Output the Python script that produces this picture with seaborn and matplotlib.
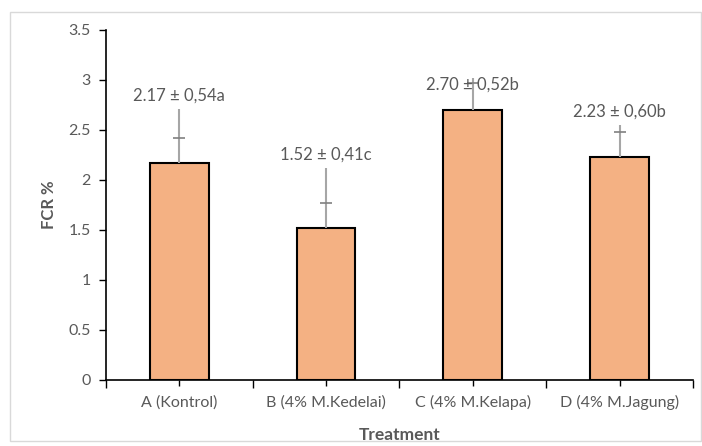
import numpy as np
import pandas as pd
import seaborn as sns
import matplotlib.pyplot as plt
from matplotlib.patches import Rectangle

# values
treatments = ['A (Kontrol)', 'B (4% M.Kedelai)', 'C (4% M.Kelapa)', 'D (4% M.Jagung)']
fcr = [2.17, 1.52, 2.70, 2.23]
labels = ['2.17 ± 0,54a', '1.52 ± 0,41c', '2.70 ± 0,52b', '2.23 ± 0,60b']
err_top = [2.71, 2.12, 3.02, 2.55]
err_cap = [2.42, 1.77, 2.97, 2.48]
label_y = [2.76, 2.17, 2.87, 2.60]
yticks = [0, 0.5, 1, 1.5, 2, 2.5, 3, 3.5]
ytick_labels = ['0', '0.5', '1', '1.5', '2', '2.5', '3', '3.5']

df = pd.DataFrame({'Treatment': treatments, 'FCR': fcr})

sns.set_style('white')
plt.rcParams['font.family'] = ['Lato', 'DejaVu Sans']
grey = '#595959'

fig = plt.figure(figsize=(7.02, 4.46), dpi=100)
fig.patches.append(Rectangle((0.014, 0.012), 0.984, 0.962, transform=fig.transFigure,
                             fill=False, edgecolor='#d9d9d9', linewidth=1))
ax = fig.add_axes([0.151, 0.148, 0.836, 0.785])

sns.barplot(data=df, x='Treatment', y='FCR', color='#F4B183', edgecolor='black',
            linewidth=1.5, width=0.40, saturation=1, ax=ax)

x = np.arange(len(treatments))
ax.vlines(x, fcr, err_top, color='#a6a6a6', linewidth=1.5, zorder=3)
ax.plot(x, err_cap, linestyle='none', marker='_', markersize=8,
        markeredgewidth=1.2, color='#808080', zorder=3)

for xi, yi, txt in zip(x, label_y, labels):
    ax.text(xi, yi, txt, ha='center', va='bottom', fontsize=12, color=grey)

ax.set_ylim(0, 3.5)
ax.set_xlim(-0.5, 3.5)
ax.set_yticks(yticks)
ax.set_yticklabels(ytick_labels, color=grey, fontsize=11.5)
ax.set_xticks(x)
ax.set_xticklabels(treatments, color=grey, fontsize=11.5)
ax.set_xticks([-0.5, 0.5, 1.5, 2.5, 3.5], minor=True)
ax.tick_params(axis='x', which='major', length=4, width=1, color='black', pad=7, bottom=True)
ax.tick_params(axis='x', which='minor', length=6, width=1, color='black', bottom=True)
ax.tick_params(axis='y', length=5, width=1, color='black', left=True, pad=6)

for s in ['top', 'right']:
    ax.spines[s].set_visible(False)
for s in ['left', 'bottom']:
    ax.spines[s].set_color('black')
    ax.spines[s].set_linewidth(1.2)

ax.set_xlabel('Treatment', fontsize=12.5, fontweight='bold', color=grey, labelpad=12)
ax.set_ylabel('FCR %', fontsize=12, fontweight='bold', color=grey, labelpad=8)

fig.savefig('out.png', dpi=100)
